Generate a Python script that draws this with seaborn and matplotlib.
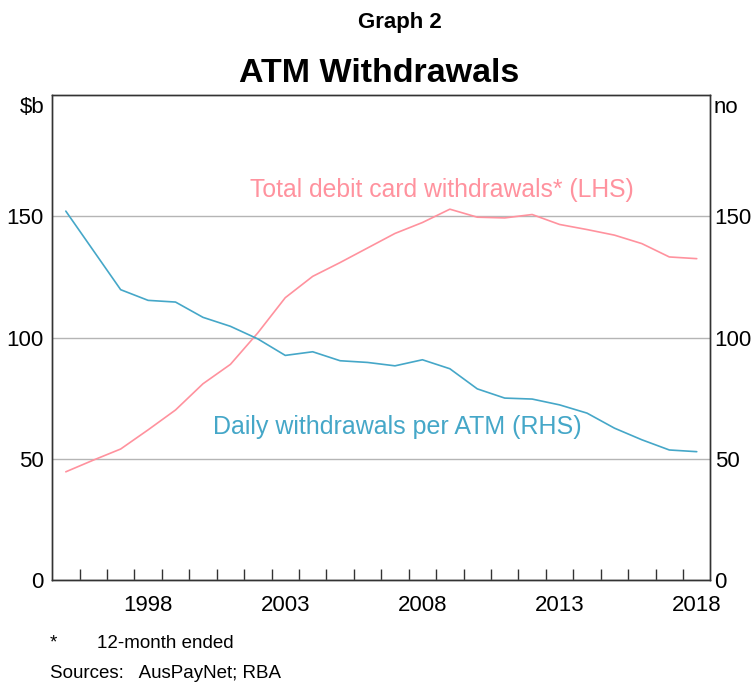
import numpy as np
import pandas as pd
import matplotlib
matplotlib.use("Agg")
import matplotlib.pyplot as plt
import seaborn as sns

# financial years, plotted at mid-year
years = np.arange(1995, 2019)
debit_total = [44.7, 49.5, 54.1, 62.0, 70.2, 81.0, 89.0, 102.0, 116.5, 125.3, 131.0, 137.0,
               143.0, 147.5, 153.0, 149.7, 149.4, 150.8, 146.7, 144.6, 142.3, 138.8, 133.3, 132.6]
daily_per_atm = [152.2, 136.0, 119.8, 115.4, 114.7, 108.4, 104.7, 99.5, 92.7, 94.2, 90.5, 89.8,
                 88.4, 90.9, 87.2, 78.9, 75.1, 74.7, 72.3, 68.9, 62.7, 57.9, 53.7, 53.0]
xtick_years = [1998, 2003, 2008, 2013, 2018]
ytick_vals = [0, 50, 100, 150]

pink = "#ff929e"
blue = "#45a7c8"

df = pd.DataFrame({"year": years + 0.5, "debit": debit_total, "daily": daily_per_atm})

sns.set_style("white")
plt.rcParams["font.family"] = ["Liberation Sans", "DejaVu Sans"]
plt.rcParams["text.color"] = "black"
plt.rcParams["xtick.color"] = "black"
plt.rcParams["ytick.color"] = "black"

fig = plt.figure(figsize=(7.55, 6.85), dpi=100)
ax = fig.add_axes([0.069, 0.153, 0.872, 0.708])
ax2 = ax.twinx()

sns.lineplot(data=df, x="year", y="debit", ax=ax, color=pink, linewidth=1.2)
sns.lineplot(data=df, x="year", y="daily", ax=ax2, color=blue, linewidth=1.2)

for a in (ax, ax2):
    a.set_xlim(1995, 2019)
    a.set_ylim(0, 200)
    a.set_yticks(ytick_vals)
    a.set_xlabel("")
    a.set_ylabel("")
    for s in a.spines.values():
        s.set_color("#333333")
        s.set_linewidth(1.0)

ax.grid(axis="y", color="#b5b5b5", linewidth=1.0)
ax.set_axisbelow(True)
ax.set_xticks([y + 0.5 for y in xtick_years])
ax.set_xticklabels([str(y) for y in xtick_years])
ax.set_xticks(np.arange(1996, 2019), minor=True)
ax.tick_params(axis="x", which="major", bottom=True, length=0, labelsize=16, pad=11)
ax.tick_params(axis="x", which="minor", bottom=True, length=8, width=1.0,
               direction="in", color="#333333")
ax.tick_params(axis="y", length=0, labelsize=16, pad=6)
ax2.tick_params(axis="y", length=0, labelsize=16, pad=3)

ax.text(-0.011, 0.975, "$b", transform=ax.transAxes, ha="right", va="center", fontsize=16)
ax2.text(1.004, 0.975, "no", transform=ax.transAxes, ha="left", va="center", fontsize=16)

ax.text(2009.2, 160.8, "Total debit card withdrawals* (LHS)", color=pink, fontsize=17.8,
        ha="center", va="center")
ax.text(2007.6, 63.1, "Daily withdrawals per ATM (RHS)", color=blue, fontsize=18,
        ha="center", va="center")

fig.text(0.529, 0.967, "Graph 2", ha="center", va="center", fontsize=16, fontweight="bold")
fig.text(0.502, 0.893, "ATM Withdrawals", ha="center", va="center", fontsize=24.5,
         fontweight="bold")

fig.text(0.066, 0.061, "*", ha="left", va="center", fontsize=13.5)
fig.text(0.128, 0.061, "12-month ended", ha="left", va="center", fontsize=13.5)
fig.text(0.066, 0.017, "Sources:   AusPayNet; RBA", ha="left", va="center", fontsize=13.5)

fig.savefig("out.png", dpi=100)
